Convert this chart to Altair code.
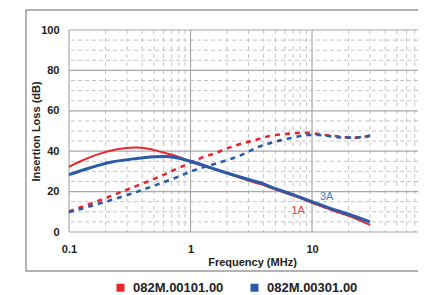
import altair as alt
import pandas as pd

S1 = "082M.00101.00"
S2 = "082M.00301.00"
RED = "#e8262d"
BLUE = "#2a5aa8"

# Solid curves (1A and 3A)
red_solid_f = [0.1, 0.13, 0.18, 0.25, 0.35, 0.45, 0.56, 0.82, 1, 1.5, 2, 3, 3.7, 5, 7, 10, 15, 20, 30]
red_solid_db = [32.3, 35.5, 38.8, 41.0, 41.8, 41.2, 39.8, 36.9, 34.8, 31.5, 29.0, 25.5, 23.8, 21.0, 18.0, 14.5, 10.5, 8.0, 3.5]
blue_solid_f = [0.1, 0.15, 0.22, 0.35, 0.5, 0.62, 0.75, 1, 1.5, 2, 3, 3.7, 5, 7, 10, 15, 20, 30]
blue_solid_db = [28.4, 31.8, 34.5, 36.3, 37.2, 37.4, 36.9, 35.0, 31.6, 29.2, 26.0, 24.5, 21.5, 18.5, 15.0, 11.2, 8.8, 5.0]

# Dashed curves
red_dash_f = [0.1, 0.2, 0.32, 0.56, 0.75, 1, 1.3, 1.6, 1.9, 2.3, 2.8, 3.4, 4.1, 5, 6, 7.2, 8.7, 10.6, 12.8, 15.5, 18.7, 22.6, 30]
red_dash_db = [10.2, 16.8, 21.6, 27.5, 31.0, 34.3, 37.3, 39.0, 40.9, 42.6, 44.2, 45.5, 47.0, 48.0, 48.5, 48.9, 49.2, 48.7, 48.0, 47.5, 46.9, 46.7, 47.5]
blue_dash_f = [0.1, 0.2, 0.32, 0.56, 0.8, 1, 1.2, 1.7, 2.5, 3, 3.6, 4.2, 5.1, 6.2, 7.5, 9.1, 11.3, 13.7, 16.5, 19.9, 24, 30]
blue_dash_db = [9.8, 15.0, 18.8, 24.0, 27.5, 29.9, 31.5, 34.3, 37.6, 39.8, 42.0, 43.4, 44.9, 46.0, 47.2, 48.0, 48.0, 47.5, 46.9, 46.7, 46.9, 47.8]

# Curve labels
label_text = ["1A", "3A"]
label_f = [7.7, 13.2]
label_db = [10.4, 17.2]
label_color = ["#ee4444", "#4a78c0"]

# Grid / ticks
major_y = [0, 20, 40, 60, 80, 100]
minor_y = [5, 10, 15, 25, 30, 35, 45, 50, 55, 65, 70, 75, 85, 90, 95]
major_x = [0.1, 1, 10]
minor_x = [0.2, 0.3, 0.4, 0.5, 0.6, 0.7, 0.8, 0.9, 2, 3, 4, 5, 6, 7, 8, 9, 20, 30, 40, 50, 60, 70]

rows = []
for f, v in zip(red_solid_f, red_solid_db):
    rows.append(dict(freq=f, db=v, series=S1, kind="solid"))
for f, v in zip(blue_solid_f, blue_solid_db):
    rows.append(dict(freq=f, db=v, series=S2, kind="solid"))
for f, v in zip(red_dash_f, red_dash_db):
    rows.append(dict(freq=f, db=v, series=S1, kind="dash"))
for f, v in zip(blue_dash_f, blue_dash_db):
    rows.append(dict(freq=f, db=v, series=S2, kind="dash"))
df = pd.DataFrame(rows)

W, H = 349, 202
FONT = "Liberation Sans"

xscale = alt.Scale(type="log", domain=[0.1, 74.5], nice=False)
yscale = alt.Scale(domain=[0, 100], nice=False)
cscale = alt.Scale(domain=[S1, S2], range=[RED, BLUE])

xaxis = alt.Axis(
    values=major_x, format="~g", title="Frequency (MHz)", grid=False, ticks=False, domain=False,
    labelPadding=11, labelFontSize=11, labelFontWeight="bold", labelColor="#222", labelFont=FONT,
    titleFontSize=11, titleFontWeight="bold", titleColor="#222", titleFont=FONT,
    titleX=183, titleY=24, titleBaseline="top", labelFlush=False,
)
yaxis = alt.Axis(
    values=major_y, title="Insertion Loss (dB)", grid=False, ticks=False, domain=False,
    labelPadding=10, labelFontSize=11, labelFontWeight="bold", labelColor="#222", labelFont=FONT,
    titleFontSize=11, titleFontWeight="bold", titleColor="#222", titleFont=FONT,
    titleX=-33, titleY=H / 2, titleBaseline="middle", titleAlign="center", titleAngle=270,
)


def X(field):
    return alt.X(field, scale=xscale, axis=xaxis)


def Y(field):
    return alt.Y(field, scale=yscale, axis=yaxis)


frame = alt.Chart(pd.DataFrame({"a": [0]})).mark_rect(
    fillOpacity=0, stroke="#9a9a9a", strokeWidth=1.5
).encode(x=alt.value(-43), x2=alt.value(W + 40), y=alt.value(-20), y2=alt.value(241))

gy_minor = alt.Chart(pd.DataFrame({"v": minor_y})).mark_rule(
    color="#c4c4c4", strokeWidth=1, strokeDash=[4, 3]
).encode(y=Y("v:Q"))
gx_minor = alt.Chart(pd.DataFrame({"v": minor_x})).mark_rule(
    color="#c4c4c4", strokeWidth=1, strokeDash=[4, 4]
).encode(x=X("v:Q"))
gy_major = alt.Chart(pd.DataFrame({"v": major_y})).mark_rule(
    color="#a8a8a8", strokeWidth=1.2
).encode(y=Y("v:Q"))
gx_major = alt.Chart(pd.DataFrame({"v": major_x})).mark_rule(
    color="#a8a8a8", strokeWidth=1.2
).encode(x=X("v:Q"))

base = alt.Chart(df)


def line(series, kind, width, dash=None):
    kw = dict(strokeWidth=width, interpolate="monotone")
    if dash:
        kw["strokeDash"] = dash
    return base.transform_filter(
        (alt.datum.series == series) & (alt.datum.kind == kind)
    ).mark_line(**kw).encode(
        x=X("freq:Q"),
        y=Y("db:Q"),
        stroke=alt.Stroke("series:N", scale=cscale, legend=None),
    )


l_rd = line(S1, "dash", 2.6, [5, 5])
l_bd = line(S2, "dash", 2.6, [5, 5])
l_rs = line(S1, "solid", 2)
l_bs = line(S2, "solid", 3)

legend_layer = base.mark_square(opacity=0, size=64, filled=True).encode(
    x=X("freq:Q"),
    y=Y("db:Q"),
    fill=alt.Fill(
        "series:N", scale=cscale,
        legend=alt.Legend(
            title=None, orient="none", legendX=45, legendY=251, direction="horizontal",
            symbolType="square", symbolSize=64, symbolOpacity=1, symbolStrokeWidth=0,
            labelFont=FONT, labelFontSize=13, labelFontWeight="bold", labelColor="#222",
            columnPadding=24, labelOffset=6,
        ),
    ),
)

labels = alt.Chart(pd.DataFrame({"t": label_text, "f": label_f, "d": label_db, "c": label_color})).mark_text(
    fontSize=11, font=FONT
).encode(
    x=X("f:Q"),
    y=Y("d:Q"),
    text="t:N",
    color=alt.Color("c:N", scale=None),
)

chart = alt.layer(
    frame, gy_minor, gx_minor, gy_major, gx_major, l_rd, l_bd, l_rs, l_bs, legend_layer, labels
).resolve_scale(stroke="independent", fill="independent", color="independent").properties(
    width=W, height=H,
    autosize=alt.AutoSizeParams(type="none"),
    padding={"left": 61, "top": 22, "right": 0, "bottom": 63},
    background="white",
).configure_view(strokeWidth=0)

chart.save("out.html", embed_options={"renderer": "svg", "actions": False})
